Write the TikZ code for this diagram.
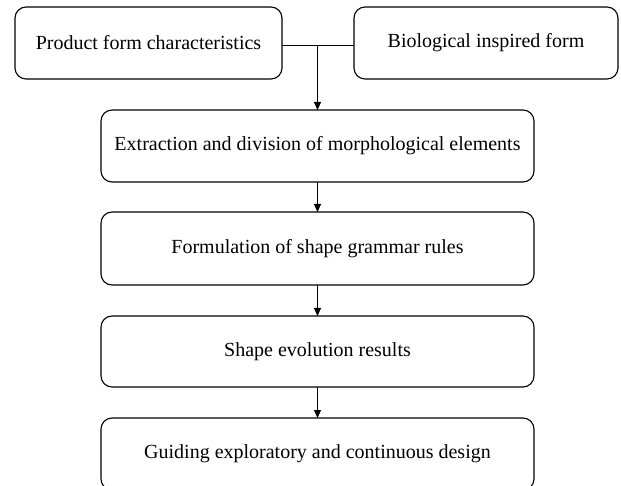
\documentclass[tikz,border=0pt]{standalone}
\usepackage{fontspec}
\setmainfont{Liberation Serif}
\usetikzlibrary{arrows.meta}
\begin{document}
\begin{tikzpicture}[x=1pt,y=-1pt,
  box/.style={draw, line width=1.1pt, rounded corners=11pt, inner sep=0pt, outer sep=0pt,
    font=\fontsize{20}{24}\selectfont},
  wbox/.style={box, minimum width=433pt, minimum height=72pt},
  arr/.style={line width=1pt, -{Triangle[length=8pt,width=7pt]}},
  ln/.style={line width=1pt}]
\useasboundingbox (0,0) rectangle (621,486);
\node[box, minimum width=267pt, minimum height=72pt] (a) at (148.5,43) {Product form characteristics};
\node[box, minimum width=264pt, minimum height=72pt] (b) at (486,43) {Biological inspired form};
\node[wbox] (c) at (317.5,146) {Extraction and division of morphological elements};
\node[wbox, minimum height=73pt] (d) at (317.5,248.5) {Formulation of shape grammar rules};
\node[wbox, minimum height=71pt] (e) at (317.5,351.5) {Shape evolution results};
\node[wbox] (f) at (317.5,454) {Guiding exploratory and continuous design};
\coordinate (pa) at (282,46);
\coordinate (pb) at (354,46);
\coordinate (m) at (317.5,46);
\draw[ln] (pa) -- (pb);
\draw[arr] (m) -- (c.north);
\draw[arr] (c.south) -- (d.north);
\draw[arr] (d.south) -- (e.north);
\draw[arr] (e.south) -- (f.north);
\end{tikzpicture}
\end{document}
